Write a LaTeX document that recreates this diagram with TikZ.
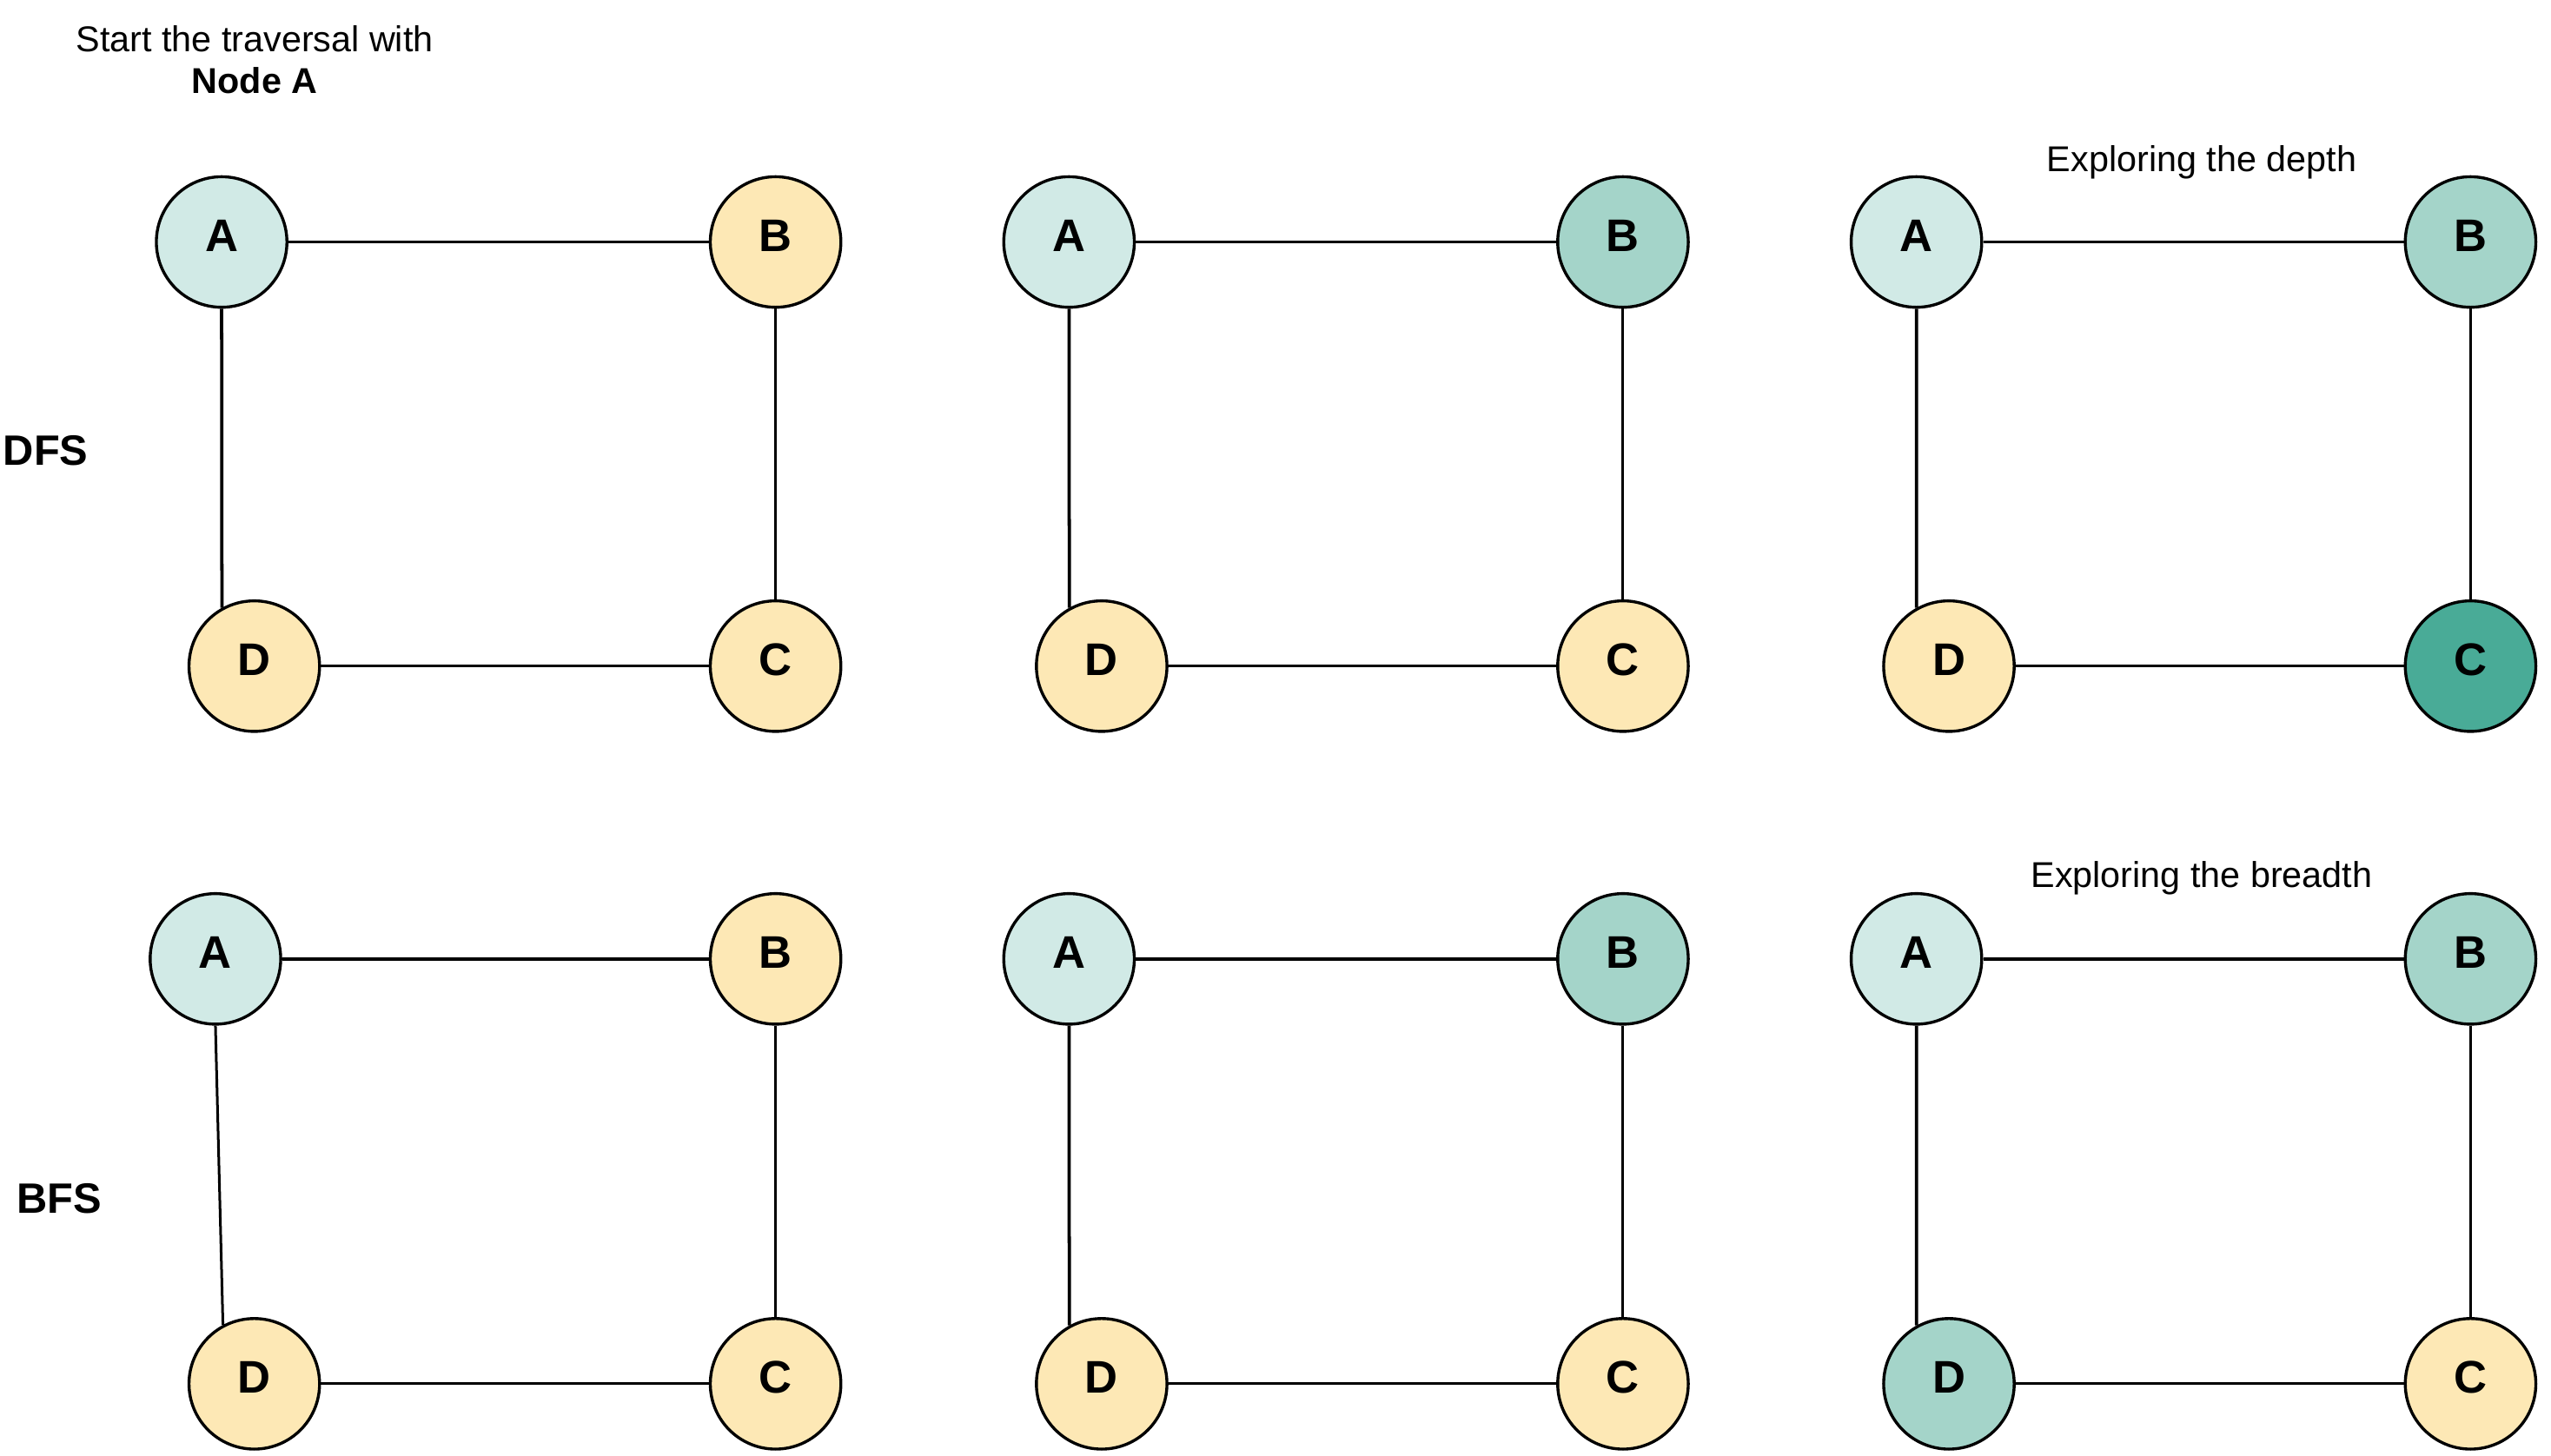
\documentclass[tikz,border=0pt]{standalone}
\usepackage{fontspec}
\setmainfont{Liberation Sans}
\usepackage{xcolor}
\definecolor{startfill}{HTML}{D1EAE6}
\definecolor{seenfill}{HTML}{A4D4C9}
\definecolor{deepfill}{HTML}{49AB97}
\definecolor{todofill}{HTML}{FDE8B5}

\begin{document}
\begin{tikzpicture}[x=0.5pt,y=-0.5pt,
  vert/.style={draw,shape=circle,line width=0.9pt,minimum size=40pt,inner sep=0pt,
    text depth=4pt,font=\fontsize{14}{16}\selectfont\bfseries},
  heavyline/.style={line width=1pt},
  lightline/.style={line width=0.8pt},
  note/.style={font=\fontsize{11}{13}\selectfont,align=center},
  rowtitle/.style={font=\fontsize{13}{15}\selectfont\bfseries,anchor=base}]
\useasboundingbox (0,0) rectangle (1563,892);
\node[note] (start) at (156,36.6) {Start the traversal with\\\textbf{Node A}};
\node[note,anchor=base] (depth) at (1349,105) {Exploring the depth};
\node[note,anchor=base] (breadth) at (1349,544) {Exploring the breadth};
\node[rowtitle] (dfs) at (28,285) {DFS};
\node[rowtitle] (bfs) at (36.4,743.6) {BFS};
% DFS
\node[vert,fill=startfill] (A1) at (135.8,148.3) {A};
\node[vert,fill=todofill] (B1) at (475.2,148.3) {B};
\node[vert,fill=todofill] (C1) at (475.2,408.2) {C};
\node[vert,fill=todofill] (D1) at (155.8,408.2) {D};
\node[vert,fill=startfill] (A2) at (655,148.3) {A};
\node[vert,fill=seenfill] (B2) at (994.4,148.3) {B};
\node[vert,fill=todofill] (C2) at (994.4,408.2) {C};
\node[vert,fill=todofill] (D2) at (675,408.2) {D};
\node[vert,fill=startfill] (A3) at (1174.2,148.3) {A};
\node[vert,fill=seenfill] (B3) at (1513.7,148.3) {B};
\node[vert,fill=deepfill] (C3) at (1513.7,408.2) {C};
\node[vert,fill=todofill] (D3) at (1194.1,408.2) {D};
% BFS
\node[vert,fill=startfill] (A4) at (132,587.6) {A};
\node[vert,fill=todofill] (B4) at (475.2,587.6) {B};
\node[vert,fill=todofill] (C4) at (475.2,848) {C};
\node[vert,fill=todofill] (D4) at (155.8,848) {D};
\node[vert,fill=startfill] (A5) at (655,587.6) {A};
\node[vert,fill=seenfill] (B5) at (994.4,587.6) {B};
\node[vert,fill=todofill] (C5) at (994.4,848) {C};
\node[vert,fill=todofill] (D5) at (675,848) {D};
\node[vert,fill=startfill] (A6) at (1174.2,587.6) {A};
\node[vert,fill=seenfill] (B6) at (1513.7,587.6) {B};
\node[vert,fill=todofill] (C6) at (1513.7,848) {C};
\node[vert,fill=seenfill] (D6) at (1194.1,848) {D};
% edges
\draw[heavyline] (A1) -- (B1);
\draw[heavyline] (A1.south) -- (D1.119.3);
\draw[lightline] (B1) -- (C1);
\draw[lightline] (D1) -- (C1);
\draw[heavyline] (A2) -- (B2);
\draw[heavyline] (A2.south) -- (D2.119.3);
\draw[lightline] (B2) -- (C2);
\draw[lightline] (D2) -- (C2);
\draw[heavyline] (A3) -- (B3);
\draw[heavyline] (A3.south) -- (D3.119.3);
\draw[lightline] (B3) -- (C3);
\draw[lightline] (D3) -- (C3);
\draw[heavyline] (A4) -- (B4);
\draw[lightline] (A4.south) -- (D4.118);
\draw[lightline] (B4) -- (C4);
\draw[lightline] (D4) -- (C4);
\draw[heavyline] (A5) -- (B5);
\draw[heavyline] (A5.south) -- (D5.119.3);
\draw[lightline] (B5) -- (C5);
\draw[lightline] (D5) -- (C5);
\draw[heavyline] (A6) -- (B6);
\draw[heavyline] (A6.south) -- (D6.119.3);
\draw[lightline] (B6) -- (C6);
\draw[lightline] (D6) -- (C6);
\end{tikzpicture}
\end{document}
